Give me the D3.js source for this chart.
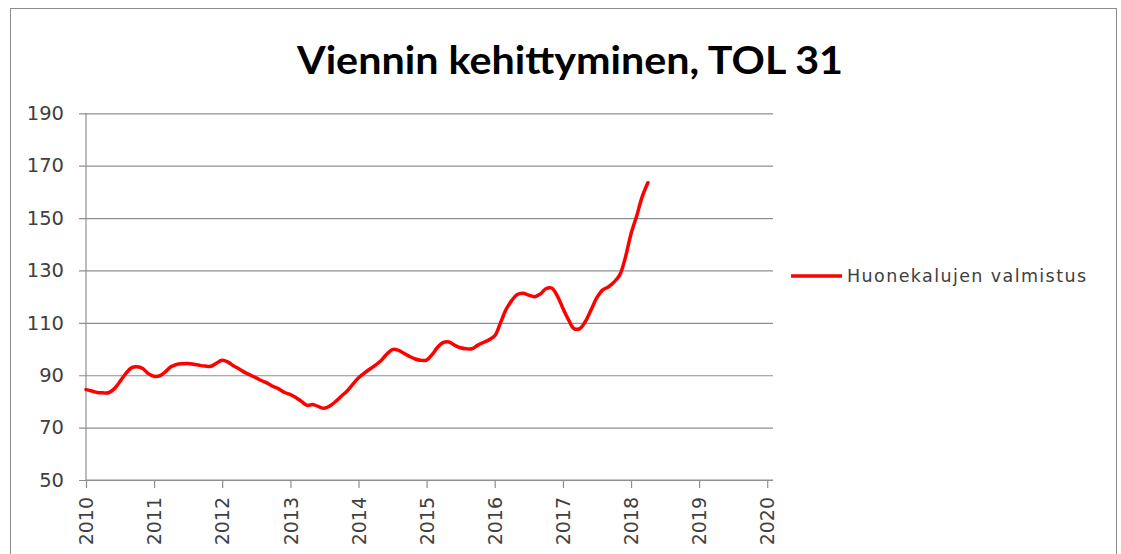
<!DOCTYPE html>
<html>
<head>
<meta charset="utf-8">
<script src="https://cdnjs.cloudflare.com/ajax/libs/d3/7.8.5/d3.min.js"></script>
<style>
	body { margin: 0; background: #fff; }
	svg { display: block; }
</style>
</head>
<body>
<svg id="chart"></svg>
<script>
var title = 'Viennin kehittyminen, TOL 31';
var seriesName = 'Huonekalujen valmistus';
var startMonth = '2010-01';

// monthly values, 2010-01 .. 2018-04
var values = [
	84.5, 84.0, 83.4, 83.3, 83.3, 84.8, 87.5, 90.5, 92.8, 93.2, 92.6, 90.6,
	89.6, 89.8, 91.2, 93.2, 94.1, 94.4, 94.5, 94.2, 93.8, 93.5, 93.4, 94.6,
	95.7, 95.0, 93.6, 92.4, 91.1, 90.0, 89.0, 87.9, 86.9, 85.7, 84.7, 83.4,
	82.6, 81.4, 80.0, 78.5, 78.8, 78.0, 77.4, 78.3, 80.0, 82.0, 84.0, 86.5,
	89.0, 90.8, 92.3, 93.8, 95.5, 98.0, 99.8, 99.6, 98.4, 97.2, 96.2, 95.7,
	95.8, 98.0, 100.7, 102.5, 102.7, 101.4, 100.5, 100.1, 100.1, 101.4, 102.5, 103.5,
	105.0, 110.0, 115.0, 118.5, 120.8, 121.3, 120.6, 120.0, 121.0, 123.0, 123.3, 120.4,
	115.5, 111.0, 107.8, 107.8, 110.5, 115.0, 119.5, 122.5, 123.7, 125.5, 128.2, 134.8,
	144.0, 151.0, 158.0, 163.5
];

var yTicks = [50, 70, 90, 110, 130, 150, 170, 190];
var xYears = [2010, 2011, 2012, 2013, 2014, 2015, 2016, 2017, 2018, 2019, 2020];

var width = 1121, height = 554;
var plot = { left: 86, right: 773, top: 113.3, bottom: 480 };
var fontFamily = '"DejaVu Sans", Verdana, sans-serif';
var gridColor = '#8f8f8f';
var textColor = '#404040';

var svg = d3.select('#chart').attr('width', width).attr('height', height);

svg.append('rect')
	.attr('x', 10.5).attr('y', 8.5)
	.attr('width', 1106).attr('height', 560)
	.attr('fill', '#fff')
	.attr('stroke', '#8c8c8c');

var parseMonth = d3.timeParse('%Y-%m');
var start = parseMonth(startMonth);
var data = values.map(function (v, i) {
	return { date: d3.timeMonth.offset(start, i), value: v };
});

var x = d3.scaleTime()
	.domain([new Date(2010, 0, 1), new Date(2020, 1, 1)])
	.range([plot.left, plot.right]);
var y = d3.scaleLinear()
	.domain([50, 190])
	.range([plot.bottom, plot.top]);

// title
svg.append('text')
	.attr('x', 570)
	.attr('y', 74)
	.attr('text-anchor', 'middle')
	.attr('font-family', 'Lato, "Open Sans", sans-serif')
	.attr('font-weight', 'bold')
	.attr('font-size', 39)
	.attr('textLength', 546)
	.attr('lengthAdjust', 'spacingAndGlyphs')
	.attr('fill', '#000')
	.text(title);

// gridlines + y axis
var yAxis = d3.axisLeft(y)
	.tickValues(yTicks)
	.tickSize(plot.right - plot.left + 7)
	.tickFormat(d3.format('d'));

var gy = svg.append('g')
	.attr('transform', 'translate(' + plot.right + ',0)')
	.call(yAxis);
gy.select('.domain').remove();
gy.selectAll('.tick line')
	.attr('stroke', gridColor)
	.attr('stroke-width', 1.2);
gy.selectAll('.tick text')
	.attr('font-family', fontFamily)
	.attr('font-size', 19.5)
	.attr('fill', textColor)
	.attr('x', -(plot.right - plot.left) - 22);

svg.append('line')
	.attr('x1', plot.left).attr('x2', plot.left)
	.attr('y1', plot.top).attr('y2', plot.bottom)
	.attr('stroke', gridColor)
	.attr('stroke-width', 1.2);

// x axis
var xAxis = d3.axisBottom(x)
	.tickValues(xYears.map(function (yr) { return new Date(yr, 0, 1); }))
	.tickSize(8)
	.tickFormat(d3.timeFormat('%Y'));

var gx = svg.append('g')
	.attr('transform', 'translate(0,' + plot.bottom + ')')
	.call(xAxis);
gx.select('.domain')
	.attr('stroke', gridColor)
	.attr('stroke-width', 1.2)
	.attr('d', 'M' + plot.left + ',0H' + plot.right);
gx.selectAll('.tick line')
	.attr('stroke', gridColor)
	.attr('stroke-width', 1.2);
gx.selectAll('.tick text')
	.attr('font-family', fontFamily)
	.attr('font-size', 19)
	.attr('fill', textColor)
	.attr('transform', 'rotate(-90)')
	.attr('text-anchor', 'end')
	.attr('x', -17)
	.attr('y', 0)
	.attr('dy', '0.35em');

// series
var line = d3.line()
	.x(function (d) { return x(d.date); })
	.y(function (d) { return y(d.value); })
	.curve(d3.curveCatmullRom.alpha(0.5));

svg.append('path')
	.datum(data)
	.attr('fill', 'none')
	.attr('stroke', '#ff0000')
	.attr('stroke-width', 3.5)
	.attr('stroke-linejoin', 'round')
	.attr('stroke-linecap', 'round')
	.attr('d', line);

// legend
var legend = svg.append('g').attr('transform', 'translate(791,276)');
legend.append('line')
	.attr('x1', 0).attr('x2', 51)
	.attr('y1', 0).attr('y2', 0)
	.attr('stroke', '#ff0000')
	.attr('stroke-width', 3.5);
legend.append('text')
	.attr('x', 56)
	.attr('y', 0)
	.attr('dy', '0.35em')
	.attr('font-family', fontFamily)
	.attr('font-size', 17.5)
	.attr('textLength', 239)
	.attr('lengthAdjust', 'spacing')
	.attr('fill', textColor)
	.text(seriesName);
</script>
</body>
</html>
